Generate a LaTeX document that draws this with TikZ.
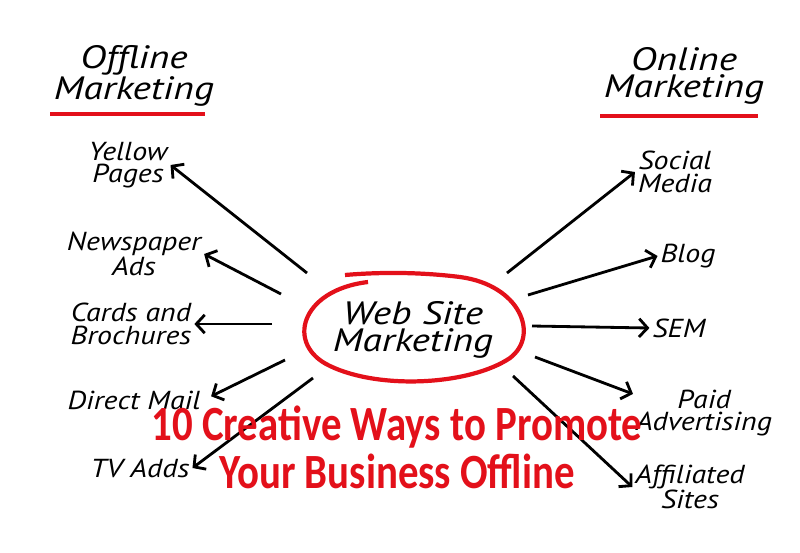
\documentclass[tikz,border=0pt]{standalone}
\usepackage{fontspec}
\setmainfont{PT Sans}
\newfontfamily\handfont[FakeStretch=1.15]{PT Sans}
\newfontfamily\bighandfont[FakeStretch=1.22]{PT Sans}
\newfontfamily\titlefont[FakeStretch=0.83]{Carlito}
\usepackage{tikz}
\usetikzlibrary{arrows.meta, positioning, calc}

\definecolor{markred}{HTML}{E3101A}

\tikzset{
  head/.style={font=\bighandfont\itshape\fontsize{23}{19}\selectfont, align=center, inner sep=0pt},
  item/.style={font=\handfont\itshape\fontsize{18.5}{16}\selectfont, align=center, inner sep=2pt},
  redline/.style={draw=markred, line width=2.6pt},
  pointer/.style={draw=black, line width=2pt, -{Straight Barb[length=6pt, width=13pt, line width=2pt]}},
}

\begin{document}
\begin{tikzpicture}[x=0.025cm, y=-0.025cm]

\useasboundingbox[fill=white] (0,0) rectangle (800,552);

%// headings
\node [head] (offline) at (134,76) {Offline\\Marketing};
\node [head] (online) at (684,76) {Online\\Marketing};
\draw [redline] (50,114) -- (205,114);
\draw [redline] (600,116) -- (758,116);

%// centre
\node [head] (web) at (413,330) {Web Site\\Marketing};
\draw [markred, line width=3pt] (368,282) .. controls (300,290) and (285,345) .. (330,366)
  .. controls (380,390) and (470,385) .. (510,358)
  .. controls (540,335) and (520,285) .. (460,277)
  .. controls (420,272) and (380,272) .. (345,275);

%// offline items
\node [item] (yellow) at (128,165) {Yellow\\Pages};
\node [item] (news) at (134,254) {Newspaper\\Ads};
\node [item] (cards) at (131,324) {Cards and\\Brochures};
\node [item] (mail) at (134,400) {Direct Mail};
\node [item] (tv) at (140,468) {TV Adds};

%// online items
\node [item] (social) at (675,172) {Social\\Media};
\node [item] (blog) at (688,256) {Blog};
\node [item] (sem) at (679,328) {SEM};
\node [item] (paid) at (704,413) {Paid\\Advertising};
\node [item] (affil) at (690,487) {Affiliated\\Sites};

%// arrow starts
\coordinate (s1) at (307,273);
\coordinate (s2) at (281,294);
\coordinate (s3) at (272,324);
\coordinate (s4) at (285,360);
\coordinate (s5) at (313,378);
\coordinate (s6) at (507,273);
\coordinate (s7) at (528,295);
\coordinate (s8) at (532,326);
\coordinate (s9) at (535,357);
\coordinate (s10) at (513,376);

\draw [pointer] (s1) -- (yellow.east);
\draw [pointer] (s2) -- (news.east);
\draw [pointer] (s3) -- (cards.east);
\draw [pointer, shorten >=6pt] (s4) -- (mail.east);
\draw [pointer] (s5) -- (tv.east);
\draw [pointer] (s6) -- (social.west);
\draw [pointer] (s7) -- (blog.west);
\draw [pointer] (s8) -- (sem.west);
\draw [pointer] (s9) -- (paid.165);
\draw [pointer] (s10) -- (affil.west);

%// title over everything
\node [font=\titlefont\bfseries\fontsize{35}{34}\selectfont, text=markred, align=center, inner sep=0pt] (title) at (397,447) {10 Creative Ways to Promote\\Your Business Offline};

\end{tikzpicture}
\end{document}
